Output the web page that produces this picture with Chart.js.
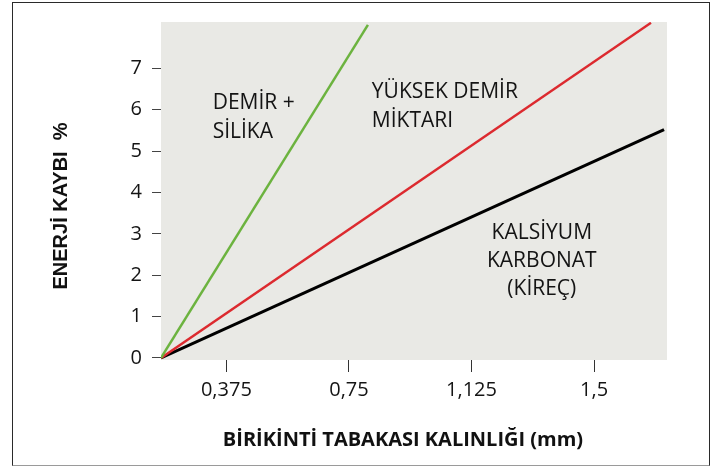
<!DOCTYPE html>
<html lang="tr">
<head>
<meta charset="utf-8">
<title>Enerji kaybı</title>
<script src="https://cdn.jsdelivr.net/npm/chart.js@4.4.1/dist/chart.umd.min.js"></script>
<style>
  html, body { margin: 0; padding: 0; background: #fff; }
  #wrap { position: relative; width: 716px; height: 466px; }
  #frame {
    position: absolute; left: 12px; top: 2px; width: 696px; height: 462px;
    border: 1px solid #2a2a2a; border-bottom-color: #9a9a9a; pointer-events: none;
  }
</style>
</head>
<body>
<div id="wrap">
  <canvas id="chart"></canvas>
  <div id="frame"></div>
</div>
<script>
// ===== DATA =====
const xTicks = [0.375, 0.75, 1.125, 1.5];
const yTicks = [0, 1, 2, 3, 4, 5, 6, 7];

const demirSilika = [[0.175, 0], [0.808, 8.05]];
const yuksekDemir = [[0.175, 0], [1.674, 8.1]];
const kalsiyumKarbonat = [[0.175, 0], [1.714, 5.52]];

const xTitle = 'BİRİKİNTİ TABAKASI KALINLIĞI (mm)';
const yTitle = 'ENERJİ KAYBI  %';

const toPoints = arr => arr.map(([x, y]) => ({ x, y }));

// ===== PLUGINS =====
const plotBackground = {
  id: 'plotBackground',
  beforeDraw(chart) {
    const { ctx, chartArea: a } = chart;
    ctx.save();
    ctx.fillStyle = '#e9e9e5';
    ctx.fillRect(a.left, a.top, a.right - a.left, a.bottom - a.top);
    ctx.restore();
  }
};

// labels inside the plot, placed in data units
const lineLabels = {
  id: 'lineLabels',
  afterDatasetsDraw(chart, args, opts) {
    const { ctx, scales: { x, y } } = chart;
    ctx.save();
    ctx.fillStyle = '#141414';
    ctx.font = '21px "Open Sans"';
    ctx.textBaseline = 'middle';
    opts.items.forEach(item => {
      ctx.textAlign = item.align;
      item.lines.forEach((line, i) => {
        ctx.fillText(line, x.getPixelForValue(item.x), y.getPixelForValue(item.y[i]));
      });
    });
    ctx.restore();
  }
};

const axisTitles = {
  id: 'axisTitles',
  afterDraw(chart) {
    const { ctx, chartArea: a } = chart;
    ctx.save();
    ctx.fillStyle = '#111';
    ctx.textAlign = 'center';
    ctx.textBaseline = 'middle';
    ctx.font = 'bold 20px "Open Sans"';
    ctx.fillText(xTitle, (a.left + a.right) / 2 - 11, a.bottom + 80);
    ctx.translate(61, (a.top + a.bottom) / 2 + 15);
    ctx.rotate(-Math.PI / 2);
    ctx.font = 'bold 20px "Liberation Sans"';
    ctx.fillText(yTitle, 0, 0);
    ctx.restore();
  }
};

// ===== CHART =====
new Chart(document.getElementById('chart'), {
  type: 'line',
  data: {
    datasets: [
      { label: 'DEMİR + SİLİKA', data: toPoints(demirSilika), borderColor: '#6cb33f', borderWidth: 2.5 },
      { label: 'YÜKSEK DEMİR MİKTARI', data: toPoints(yuksekDemir), borderColor: '#dc2a2f', borderWidth: 2.5 },
      { label: 'KALSİYUM KARBONAT (KİREÇ)', data: toPoints(kalsiyumKarbonat), borderColor: '#000000', borderWidth: 3 }
    ]
  },
  options: {
    responsive: true,
    maintainAspectRatio: false,
    animation: false,
    layout: { padding: { left: 0, top: 18, right: 49, bottom: 0 } },
    elements: { point: { radius: 0 }, line: { tension: 0, borderCapStyle: 'butt' } },
    plugins: {
      legend: { display: false },
      tooltip: { enabled: false },
      lineLabels: {
        items: [
          { lines: ['DEMİR +', 'SİLİKA'], x: 0.333, y: [6.16, 5.45], align: 'left' },
          { lines: ['YÜKSEK DEMİR', 'MİKTARI'], x: 0.82, y: [6.43, 5.73], align: 'left' },
          { lines: ['KALSİYUM', 'KARBONAT', '(KİREÇ)'], x: 1.34, y: [3.03, 2.34, 1.67], align: 'center' }
        ]
      }
    },
    scales: {
      x: {
        type: 'linear',
        min: 0.175,
        max: 1.723,
        afterFit: s => { s.height = 106; },
        afterBuildTicks: s => { s.ticks = xTicks.map(value => ({ value })); },
        border: { display: false },
        grid: { drawOnChartArea: false, drawTicks: true, tickLength: 12, color: '#333', lineWidth: 1 },
        ticks: {
          padding: 6,
          color: '#141414',
          font: { family: 'Open Sans', size: 20 },
          maxRotation: 0,
          callback: v => String(v).replace('.', ',')
        }
      },
      y: {
        min: -0.05,
        max: 8.12,
        afterFit: s => { s.width = 161; },
        afterBuildTicks: s => { s.ticks = yTicks.map(value => ({ value })); },
        border: { display: false },
        grid: { drawOnChartArea: false, drawTicks: true, tickLength: 9, color: '#444', lineWidth: 1 },
        ticks: {
          padding: 10,
          color: '#141414',
          font: { family: 'Open Sans', size: 20 },
          callback: v => String(v)
        }
      }
    }
  },
  plugins: [plotBackground, lineLabels, axisTitles]
});
</script>
</body>
</html>
